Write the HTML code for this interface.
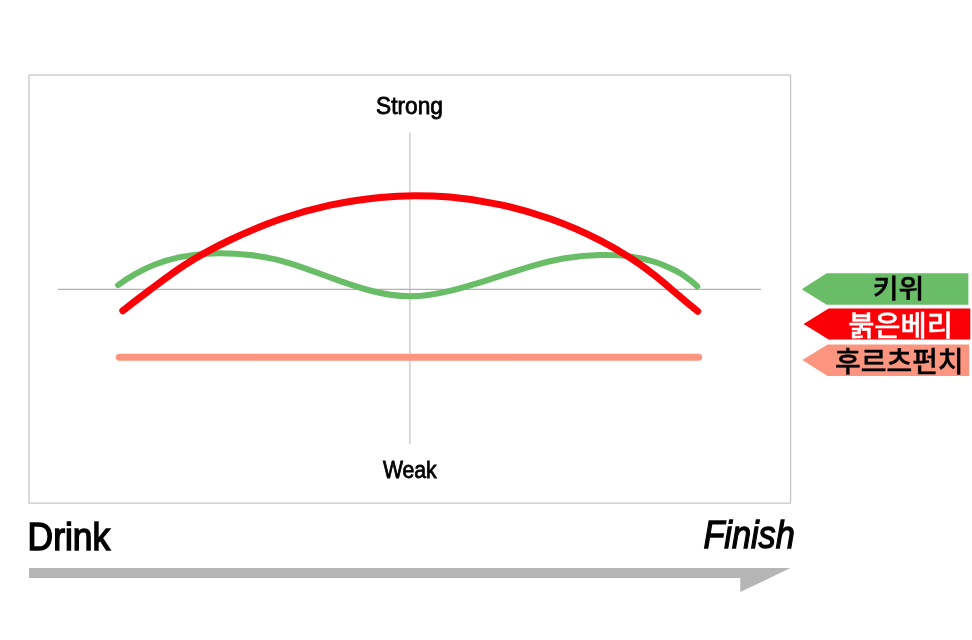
<!DOCTYPE html>
<html lang="ko">
<head>
<meta charset="utf-8">
<title>Flavor Chart</title>
<style>
html,body{margin:0;padding:0;background:#fff;}
body{width:972px;height:640px;overflow:hidden;position:relative;font-family:"Liberation Sans","NanumGothic",sans-serif;}
svg{display:block;position:absolute;left:0;top:0;}
.lat{font-family:"Liberation Sans",sans-serif;fill:#000;}
.kr{font-family:"Liberation Sans","Noto Sans CJK KR","NanumGothic",sans-serif;font-weight:500;}
</style>
</head>
<body>
<svg width="972" height="640" viewBox="0 0 972 640">
  <!-- chart frame -->
  <rect x="29" y="75.05" width="761.6" height="428.1" fill="#fff" stroke="#c6c6c6" stroke-width="1.25"/>
  <!-- axes -->
  <line x1="58" y1="289.4" x2="761" y2="289.4" stroke="#b1b1b1" stroke-width="1.1"/>
  <line x1="409.9" y1="132.5" x2="409.9" y2="444.5" stroke="#c2c2c2" stroke-width="1.2"/>
  <!-- curves -->
  <path d="M118.1,285.1 C123.7,281.0 129.4,277.3 135.0,274.1 C141.7,270.3 148.3,267.1 155.0,264.5 C163.3,261.2 171.7,258.8 180.0,257.1 C190.7,254.9 201.3,253.8 212.0,253.5 C224.7,253.1 237.3,253.6 250.0,255.0 C263.3,256.5 276.7,259.2 290.0,263.3 C303.3,267.4 316.7,272.5 330.0,277.4 C343.3,282.3 356.7,287.0 370.0,290.5 C383.3,294.0 396.7,296.3 410.0,296.3 C423.3,296.3 436.7,294.0 450.0,290.8 C463.3,287.6 476.7,283.5 490.0,279.3 C503.3,275.1 516.7,270.5 530.0,266.6 C541.7,263.1 553.3,260.1 565.0,258.2 C576.7,256.2 588.3,255.2 600.0,255.0 C610.0,254.7 620.0,255.0 630.0,256.4 C638.3,257.5 646.7,259.3 655.0,262.0 C660,263.65 665,265.6 670,267.9 C673.3,269.4 676.7,270.95 680,273 C683.3,275.05 686.7,277.6 690,280.2 C692.4,282.1 694.8,284 697.2,286.4" fill="none" stroke="#69bd67" stroke-width="6" stroke-linecap="round" stroke-linejoin="round"/>
  <path d="M122.8,310.7 C131.9,303.6 140.9,296.7 150.0,289.9 C161.7,281.2 173.3,272.4 185.0,264.8 C200.0,255.1 215.0,247.2 230.0,240.0 C246.7,232.0 263.3,225.1 280.0,219.3 C296.7,213.5 313.3,208.8 330.0,205.2 C346.7,201.5 363.3,199.0 380.0,197.4 C391.7,196.4 403.3,195.8 415.0,195.7 C426.7,195.7 438.3,196.1 450.0,197.1 C466.7,198.5 483.3,201.0 500.0,204.6 C516.7,208.2 533.3,212.9 550.0,218.8 C566.7,224.7 583.3,231.8 600.0,240.4 C613.3,247.3 626.7,255.1 640.0,264.4 C650.0,271.4 660.0,279.4 670.0,288.1 C679.2,296.0 688.5,304.4 697.7,311.2" fill="none" stroke="#fb0007" stroke-width="7" stroke-linecap="round" stroke-linejoin="round"/>
  <line x1="119.2" y1="357.3" x2="698.7" y2="357.3" stroke="#fb9580" stroke-width="7" stroke-linecap="round"/>
  <!-- axis labels -->
  <text class="lat" x="376" y="113.7" font-size="23.7" textLength="66.9" lengthAdjust="spacingAndGlyphs" stroke="#000" stroke-width="0.8">Strong</text>
  <text class="lat" x="382.9" y="478.2" font-size="23.7" textLength="53.8" lengthAdjust="spacingAndGlyphs" stroke="#000" stroke-width="0.8">Weak</text>
  <!-- bottom labels -->
  <text class="lat" x="27.6" y="549.95" font-size="38.4" textLength="82.6" lengthAdjust="spacingAndGlyphs" stroke="#000" stroke-width="1.5">Drink</text>
  <text class="lat" x="703.4" y="548.1" font-size="39" font-style="italic" textLength="91.4" lengthAdjust="spacingAndGlyphs" stroke="#000" stroke-width="1.3">Finish</text>
  <!-- arrow -->
  <polygon points="29,568 790.5,568 740.3,592 740.3,578 29,578" fill="#b6b6b6"/>
  <!-- legend tags -->
  <polygon points="801.7,289.2 826.7,273.2 968.4,273.2 968.4,304.8 826.7,304.8" fill="#69bd67"/>
  <polygon points="803.6,324 828.6,308.4 970.3,308.4 970.3,339.6 828.6,339.6" fill="#fb0007"/>
  <polygon points="802.3,359.9 827.6,344.5 969.2,344.5 969.2,376 827.6,376" fill="#fb9580"/>
  <text class="kr" x="872.8" y="298.2" font-size="26" textLength="51.6" lengthAdjust="spacingAndGlyphs" fill="#000" stroke="#000" stroke-width="0.4">키위</text>
  <text class="kr" x="848.2" y="336.25" font-size="28.4" textLength="104.6" lengthAdjust="spacingAndGlyphs" fill="#fff" stroke="#fff" stroke-width="0.4">붉은베리</text>
  <text class="kr" x="835" y="371.8" font-size="28.2" textLength="128.6" lengthAdjust="spacingAndGlyphs" fill="#000" stroke="#000" stroke-width="0.4">후르츠펀치</text>
</svg>
</body>
</html>
